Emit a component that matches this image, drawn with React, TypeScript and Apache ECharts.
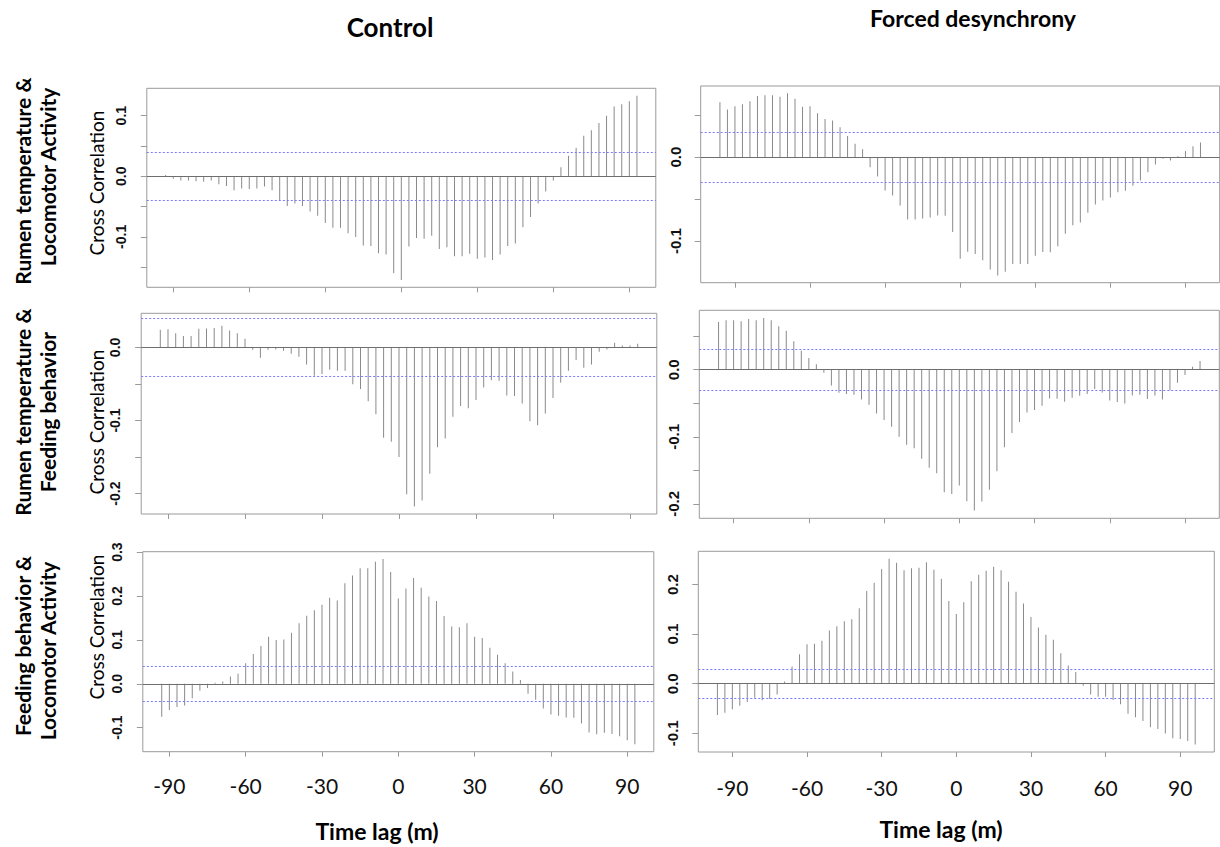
import React, { useEffect, useRef } from "react";
import * as echarts from "echarts";

// ---------- data ----------
const controlLags = [
  -93, -90, -87, -84, -81, -78, -75, -72, -69, -66, -63, -60, -57, -54, -51, -48, -45, -42, -39, -36, -33,
  -30, -27, -24, -21, -18, -15, -12, -9, -6, -3, 0, 3, 6, 9, 12, 15, 18, 21, 24, 27, 30, 33, 36, 39, 42, 45,
  48, 51, 54, 57, 60, 63, 66, 69, 72, 75, 78, 81, 84, 87, 90, 93,
];
const forcedLags = [
  -96, -93, -90, -87, -84, -81, -78, -75, -72, -69, -66, -63, -60, -57, -54, -51, -48, -45, -42, -39, -36,
  -33, -30, -27, -24, -21, -18, -15, -12, -9, -6, -3, 0, 3, 6, 9, 12, 15, 18, 21, 24, 27, 30, 33, 36, 39, 42,
  45, 48, 51, 54, 57, 60, 63, 66, 69, 72, 75, 78, 81, 84, 87, 90, 93, 96,
];

const xTickValues = [-90, -60, -30, 0, 30, 60, 90];

const controlCI = 0.0365;
const forcedCI = 0.0337;

const rumenLocoControl = [
  0.002, -0.004, -0.007, -0.007, -0.008, -0.009, -0.007, -0.013, -0.016, -0.023,
  -0.02, -0.021, -0.02, -0.017, -0.023, -0.039, -0.049, -0.045, -0.049, -0.058,
  -0.065, -0.077, -0.085, -0.085, -0.094, -0.1, -0.114, -0.115, -0.127, -0.129,
  -0.16, -0.171, -0.116, -0.102, -0.103, -0.098, -0.12, -0.117, -0.132, -0.132,
  -0.128, -0.136, -0.134, -0.138, -0.129, -0.115, -0.111, -0.084, -0.067, -0.045,
  -0.025, -0.007, 0.015, 0.034, 0.047, 0.067, 0.076, 0.088, 0.1, 0.115,
  0.119, 0.124, 0.133,
];
const rumenLocoForced = [
  0.0655, 0.057, 0.0607, 0.063, 0.0667, 0.073, 0.0738, 0.0738, 0.0722, 0.0762,
  0.0698, 0.06, 0.0607, 0.0524, 0.0456, 0.0437, 0.0357, 0.0254, 0.0159, 0.0095,
  -0.0119, -0.023, -0.0397, -0.0456, -0.0575, -0.0742, -0.0742, -0.073, -0.0718, -0.0694,
  -0.0698, -0.0893, -0.121, -0.1127, -0.1155, -0.123, -0.134, -0.141, -0.1365, -0.1274,
  -0.1274, -0.1274, -0.1175, -0.113, -0.1135, -0.1063, -0.0913, -0.0813, -0.0778, -0.0663,
  -0.0563, -0.0516, -0.048, -0.0417, -0.04, -0.0341, -0.0278, -0.0179, -0.0087, -0.002,
  -0.004, 0.0012, 0.0075, 0.0131, 0.0175,
];
const rumenFeedControl = [
  0.0241, 0.025, 0.0195, 0.0155, 0.0155, 0.0255, 0.0259, 0.0264, 0.0295, 0.0232,
  0.0195, 0.0118, -0.0032, -0.0141, -0.0032, -0.0027, -0.0045, -0.0086, -0.0127, -0.0232,
  -0.0386, -0.0364, -0.0305, -0.0318, -0.0318, -0.0505, -0.0568, -0.0736, -0.0914, -0.1236,
  -0.1291, -0.15, -0.2009, -0.2177, -0.2095, -0.1727, -0.1364, -0.1245, -0.095, -0.08,
  -0.0832, -0.0718, -0.055, -0.045, -0.0455, -0.0659, -0.0664, -0.0768, -0.1009, -0.1064,
  -0.0905, -0.0691, -0.0482, -0.0318, -0.0173, -0.0277, -0.0232, -0.0059, -0.0027, 0.0064,
  0.0027, 0.0027, 0.005,
];
const rumenFeedForced = [
  0.0711, 0.0736, 0.0736, 0.0721, 0.0756, 0.0736, 0.0771, 0.0736, 0.0647, 0.0582,
  0.0423, 0.0284, 0.0174, 0.008, -0.0045, -0.0234, -0.0343, -0.0363, -0.0373, -0.0443,
  -0.0522, -0.0652, -0.0751, -0.0851, -0.1, -0.1119, -0.1169, -0.1328, -0.1463, -0.1542,
  -0.1826, -0.1851, -0.1726, -0.196, -0.21, -0.1965, -0.1791, -0.1512, -0.1154, -0.0945,
  -0.0781, -0.0637, -0.0602, -0.0537, -0.0428, -0.0433, -0.0478, -0.0418, -0.0388, -0.0363,
  -0.0289, -0.0338, -0.0458, -0.0483, -0.0502, -0.0383, -0.0373, -0.0438, -0.0383, -0.0443,
  -0.0308, -0.0194, -0.008, 0.0045, 0.0129,
];
const feedLocoControl = [
  -0.0754, -0.0595, -0.0528, -0.0497, -0.0332, -0.0158, -0.0098, 0.0023, 0.0053, 0.0166,
  0.0226, 0.0467, 0.0678, 0.0859, 0.107, 0.0995, 0.101, 0.116, 0.1379, 0.1552,
  0.1673, 0.1801, 0.1959, 0.1899, 0.2291, 0.2464, 0.263, 0.263, 0.278, 0.284,
  0.2547, 0.1944, 0.217, 0.2411, 0.2185, 0.1989, 0.1884, 0.1545, 0.1304, 0.1289,
  0.1379, 0.107, 0.104, 0.0821, 0.0663, 0.0467, 0.0279, 0.0083, -0.0226, -0.0362,
  -0.0565, -0.0701, -0.0731, -0.0769, -0.0776, -0.0904, -0.1108, -0.1153, -0.1115, -0.1145,
  -0.1198, -0.1288, -0.1379,
];
const feedLocoForced = [
  -0.0631, -0.0584, -0.0517, -0.0443, -0.0369, -0.0282, -0.0336, -0.0309, -0.0215, 0.0047,
  0.0349, 0.0597, 0.0799, 0.0805, 0.0866, 0.1074, 0.1161, 0.1262, 0.1302, 0.1523,
  0.1872, 0.204, 0.2315, 0.2523, 0.2443, 0.2289, 0.2329, 0.2342, 0.245, 0.2302,
  0.2121, 0.1671, 0.1409, 0.1644, 0.2067, 0.2201, 0.2282, 0.2362, 0.2289, 0.206,
  0.1859, 0.1617, 0.1349, 0.1134, 0.0987, 0.0886, 0.0617, 0.0369, 0.0235, -0.004,
  -0.0215, -0.0262, -0.0262, -0.0329, -0.0416, -0.0604, -0.0678, -0.0752, -0.0879, -0.0913,
  -0.1007, -0.1101, -0.1114, -0.1154, -0.1228,
];

// y tick marks and labelled ticks per panel
const yTicksC1 = [-0.15, -0.1, -0.05, 0, 0.05, 0.1];
const yLabelsC1 = [-0.1, 0, 0.1];
const yTicksC2 = [-0.2, -0.15, -0.1, -0.05, 0];
const yLabelsC2 = [-0.2, -0.1, 0];
const yTicksC3 = [-0.1, 0, 0.1, 0.2, 0.3];
const yLabelsC3 = [-0.1, 0, 0.1, 0.2, 0.3];
const yTicksF1 = [-0.1, -0.05, 0, 0.05];
const yLabelsF1 = [-0.1, 0];
const yTicksF2 = [-0.2, -0.15, -0.1, -0.05, 0, 0.05];
const yLabelsF2 = [-0.2, -0.1, 0];
const yTicksF3 = [-0.1, 0, 0.1, 0.2];
const yLabelsF3 = [-0.1, 0, 0.1, 0.2];

const columnTitles = ["Control", "Forced desynchrony"];
const rowLabels = [
  ["Rumen temperature &", "Locomotor Activity"],
  ["Rumen temperature &", "Feeding behavior"],
  ["Feeding behavior &", "Locomotor Activity"],
];
const yAxisTitle = "Cross Correlation";
const xAxisTitle = "Time lag (m)";

// ---------- layout (pixels) ----------
const boxes = [
  { left: 146.8, top: 88.3, width: 509, height: 199, labelSize: 14, xLabels: false, labelMargin: 19 },
  { left: 141.2, top: 313.3, width: 515.6, height: 200.7, labelSize: 14, xLabels: false, labelMargin: 19 },
  { left: 142.8, top: 551.7, width: 511, height: 200, labelSize: 14, xLabels: true, labelMargin: 19, xMargin: 23 },
  { left: 700.7, top: 86, width: 519, height: 196.7, labelSize: 15, xLabels: false, labelMargin: 18 },
  { left: 699.3, top: 310.3, width: 520, height: 208, labelSize: 15, xLabels: false, labelMargin: 18 },
  { left: 698.3, top: 551.3, width: 516, height: 200.7, labelSize: 15, xLabels: true, labelMargin: 18, xMargin: 25 },
];

const panels = [
  { lags: controlLags, values: rumenLocoControl, ci: controlCI, yTicks: yTicksC1, yLabels: yLabelsC1 },
  { lags: controlLags, values: rumenFeedControl, ci: controlCI, yTicks: yTicksC2, yLabels: yLabelsC2 },
  { lags: controlLags, values: feedLocoControl, ci: controlCI, yTicks: yTicksC3, yLabels: yLabelsC3 },
  { lags: forcedLags, values: rumenLocoForced, ci: forcedCI, yTicks: yTicksF1, yLabels: yLabelsF1 },
  { lags: forcedLags, values: rumenFeedForced, ci: forcedCI, yTicks: yTicksF2, yLabels: yLabelsF2 },
  { lags: forcedLags, values: feedLocoForced, ci: forcedCI, yTicks: yTicksF3, yLabels: yLabelsF3 },
];

function ranges(lags: number[], values: number[], ci: number) {
  const x0 = lags[0];
  const x1 = lags[lags.length - 1];
  const xp = (x1 - x0) * 0.04;
  const y0 = Math.min(...values, -ci);
  const y1 = Math.max(...values, ci);
  const yp = (y1 - y0) * 0.04;
  return { xmin: x0 - xp, xmax: x1 + xp, ymin: y0 - yp, ymax: y1 + yp };
}

function buildOption() {
  const grid: any[] = [];
  const xAxis: any[] = [];
  const yAxis: any[] = [];
  const series: any[] = [];

  panels.forEach((p, i) => {
    const b = boxes[i];
    const r = ranges(p.lags, p.values, p.ci);
    grid.push({
      left: b.left,
      top: b.top,
      width: b.width,
      height: b.height,
      show: true,
      borderColor: "#9a9a9a",
      borderWidth: 1,
      backgroundColor: "transparent",
      containLabel: false,
      outerBoundsMode: "none",
    });
    xAxis.push({
      type: "value",
      gridIndex: i,
      position: "bottom",
      min: r.xmin,
      max: r.xmax,
      axisLine: { show: false, onZero: false },
      splitLine: { show: false },
      axisTick: {
        show: true,
        length: 5,
        customValues: xTickValues,
        lineStyle: { color: "#9a9a9a", width: 1 },
      },
      axisLabel: {
        show: b.xLabels,
        customValues: xTickValues,
        margin: b.xMargin || 8,
        fontFamily: "Lato",
        fontSize: 21,
        color: "#111",
        formatter: (v: number) => String(v),
      },
    });
    yAxis.push({
      type: "value",
      gridIndex: i,
      position: "left",
      min: r.ymin,
      max: r.ymax,
      axisLine: { show: false, onZero: false },
      splitLine: { show: false },
      axisTick: {
        show: true,
        length: 6,
        customValues: p.yTicks,
        lineStyle: { color: "#9a9a9a", width: 1 },
      },
      axisLabel: {
        show: true,
        customValues: p.yLabels,
        rotate: 90,
        margin: b.labelMargin,
        fontFamily: "Liberation Sans",
        fontWeight: "bold",
        fontSize: b.labelSize,
        color: "#111",
        formatter: (v: number) => v.toFixed(1),
      },
    });
    series.push({
      type: "bar",
      xAxisIndex: i,
      yAxisIndex: i,
      data: p.lags.map((l, k) => [l, p.values[k]]),
      barWidth: 1,
      itemStyle: { color: "#8a8a8a" },
      silent: true,
      z: 2,
      markLine: {
        silent: true,
        symbol: "none",
        label: { show: false },
        z: 3,
        data: [
          { yAxis: 0, lineStyle: { color: "#6e6e6e", type: "solid", width: 1 } },
          { yAxis: p.ci, lineStyle: { color: "#7a7aff", type: [2, 2], width: 1 } },
          { yAxis: -p.ci, lineStyle: { color: "#7a7aff", type: [2, 2], width: 1 } },
        ],
      },
    });
  });

  const rowCenters = [
    [181, 177],
    [412, 412],
    [646, 651],
  ];
  const crossCenters = [183, 422, 627];

  const graphic: any[] = [];
  const txt = (text: string, x: number, y: number, font: string, rot = 0) => ({
    type: "text",
    x,
    y,
    rotation: rot,
    silent: true,
    style: {
      text,
      font,
      fill: "#000",
      align: "center",
      verticalAlign: "middle",
      textAlign: "center",
      textVerticalAlign: "middle",
    },
  });
  graphic.push(txt(columnTitles[0], 390, 27, "bold 26px Lato"));
  graphic.push(txt(columnTitles[1], 973, 18, "bold 23px Lato"));
  rowLabels.forEach((lines, r) => {
    graphic.push(txt(lines[0], 22, rowCenters[r][0], "bold 21px Lato", Math.PI / 2));
    graphic.push(txt(lines[1], 47, rowCenters[r][1], "bold 21px Lato", Math.PI / 2));
    graphic.push(txt(yAxisTitle, 96, crossCenters[r], "19px Lato", Math.PI / 2));
  });
  graphic.push(txt(xAxisTitle, 377, 831, "bold 23px Lato"));
  graphic.push(txt(xAxisTitle, 941, 829, "bold 23px Lato"));

  return {
    animation: false,
    backgroundColor: "#ffffff",
    grid,
    xAxis,
    yAxis,
    series,
    graphic,
  };
}

export default function App() {
  const ref = useRef<HTMLDivElement>(null);
  useEffect(() => {
    if (!ref.current) return;
    const chart = echarts.init(ref.current, null, { renderer: "svg" });
    chart.setOption(buildOption() as any);
    return () => chart.dispose();
  }, []);
  return (
    <div
      ref={ref}
      style={{ position: "absolute", left: 0, top: 0, width: 1220, height: 847, background: "#fff" }}
    />
  );
}
